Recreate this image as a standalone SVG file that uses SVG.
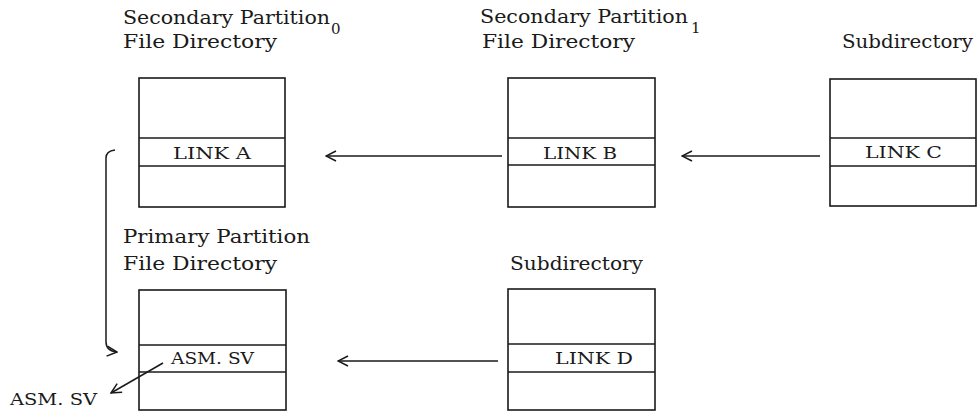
<svg xmlns="http://www.w3.org/2000/svg" width="979" height="413" viewBox="0 0 979 413">
<defs>
<style>
.t{font-family:"DejaVu Serif","Liberation Serif",serif;font-size:19px;fill:#1a1a1a}
.c{font-family:"DejaVu Serif","Liberation Serif",serif;font-size:17px;fill:#1a1a1a}
.sub{font-family:"DejaVu Serif","Liberation Serif",serif;font-size:15px;fill:#1a1a1a}
.box{fill:none;stroke:#1a1a1a;stroke-width:1.6}
.ln{fill:none;stroke:#1a1a1a;stroke-width:1.5}
</style>
<marker id="ah" viewBox="0 0 12 12" refX="11" refY="6" markerWidth="12" markerHeight="12" markerUnits="userSpaceOnUse" orient="auto">
<path d="M1,1 L11,6 L1,11" fill="none" stroke="#1a1a1a" stroke-width="1.5"/>
</marker>
</defs>
<rect width="979" height="413" fill="#fff"/>

<g id="labels">
<text class="t" x="123" y="24" textLength="207" lengthAdjust="spacingAndGlyphs">Secondary Partition</text>
<text class="sub" x="331" y="34">0</text>
<text class="t" x="123" y="48" textLength="154" lengthAdjust="spacingAndGlyphs">File Directory</text>
<text class="t" x="480" y="23" textLength="208" lengthAdjust="spacingAndGlyphs">Secondary Partition</text>
<text class="sub" x="691" y="33">1</text>
<text class="t" x="482" y="48" textLength="153" lengthAdjust="spacingAndGlyphs">File Directory</text>
<text class="t" x="842" y="48" textLength="131" lengthAdjust="spacingAndGlyphs">Subdirectory</text>
<text class="t" x="123" y="243" textLength="187" lengthAdjust="spacingAndGlyphs">Primary Partition</text>
<text class="t" x="123" y="270" textLength="154" lengthAdjust="spacingAndGlyphs">File Directory</text>
<text class="t" x="510" y="270" textLength="133" lengthAdjust="spacingAndGlyphs">Subdirectory</text>
</g>

<g id="node-sec0">
<rect class="box" x="139" y="78" width="146" height="129"/>
<line class="box" x1="139" y1="138" x2="285" y2="138"/>
<line class="box" x1="139" y1="166" x2="285" y2="166"/>
<text class="c" x="173" y="159" textLength="78" lengthAdjust="spacingAndGlyphs">LINK A</text>
</g>

<g id="node-sec1">
<rect class="box" x="508" y="78" width="147" height="129"/>
<line class="box" x1="508" y1="138" x2="655" y2="138"/>
<line class="box" x1="508" y1="165" x2="655" y2="165"/>
<text class="c" x="543" y="159" textLength="74" lengthAdjust="spacingAndGlyphs">LINK B</text>
</g>

<g id="node-sub1">
<rect class="box" x="830" y="79" width="146" height="127"/>
<line class="box" x1="830" y1="138" x2="976" y2="138"/>
<line class="box" x1="830" y1="166" x2="976" y2="166"/>
<text class="c" x="865" y="158" textLength="77" lengthAdjust="spacingAndGlyphs">LINK C</text>
</g>

<g id="node-primary">
<rect class="box" x="139" y="290" width="147" height="120"/>
<line class="box" x1="139" y1="345" x2="286" y2="345"/>
<line class="box" x1="139" y1="372" x2="286" y2="372"/>
<text class="c" x="171" y="364" textLength="83" lengthAdjust="spacingAndGlyphs">ASM. SV</text>
</g>

<g id="node-sub2">
<rect class="box" x="508" y="289" width="147" height="121"/>
<line class="box" x1="508" y1="344" x2="655" y2="344"/>
<line class="box" x1="508" y1="372" x2="655" y2="372"/>
<text class="c" x="555" y="364" textLength="78" lengthAdjust="spacingAndGlyphs">LINK D</text>
</g>

<g id="node-asm">
<text class="c" x="10" y="405" textLength="87" lengthAdjust="spacingAndGlyphs">ASM. SV</text>
</g>

<g id="connectors">
<line class="ln" x1="502" y1="156" x2="326" y2="156" marker-end="url(#ah)"/>
<line class="ln" x1="820" y1="156" x2="682" y2="156" marker-end="url(#ah)"/>
<line class="ln" x1="498" y1="361" x2="338" y2="361" marker-end="url(#ah)"/>
<line class="ln" x1="163" y1="363" x2="111" y2="393" marker-end="url(#ah)"/>
<path class="ln" d="M115,150 Q106,151 106,158 L106,342 Q106,351 117,352" marker-end="url(#ah)"/>
</g>
</svg>
